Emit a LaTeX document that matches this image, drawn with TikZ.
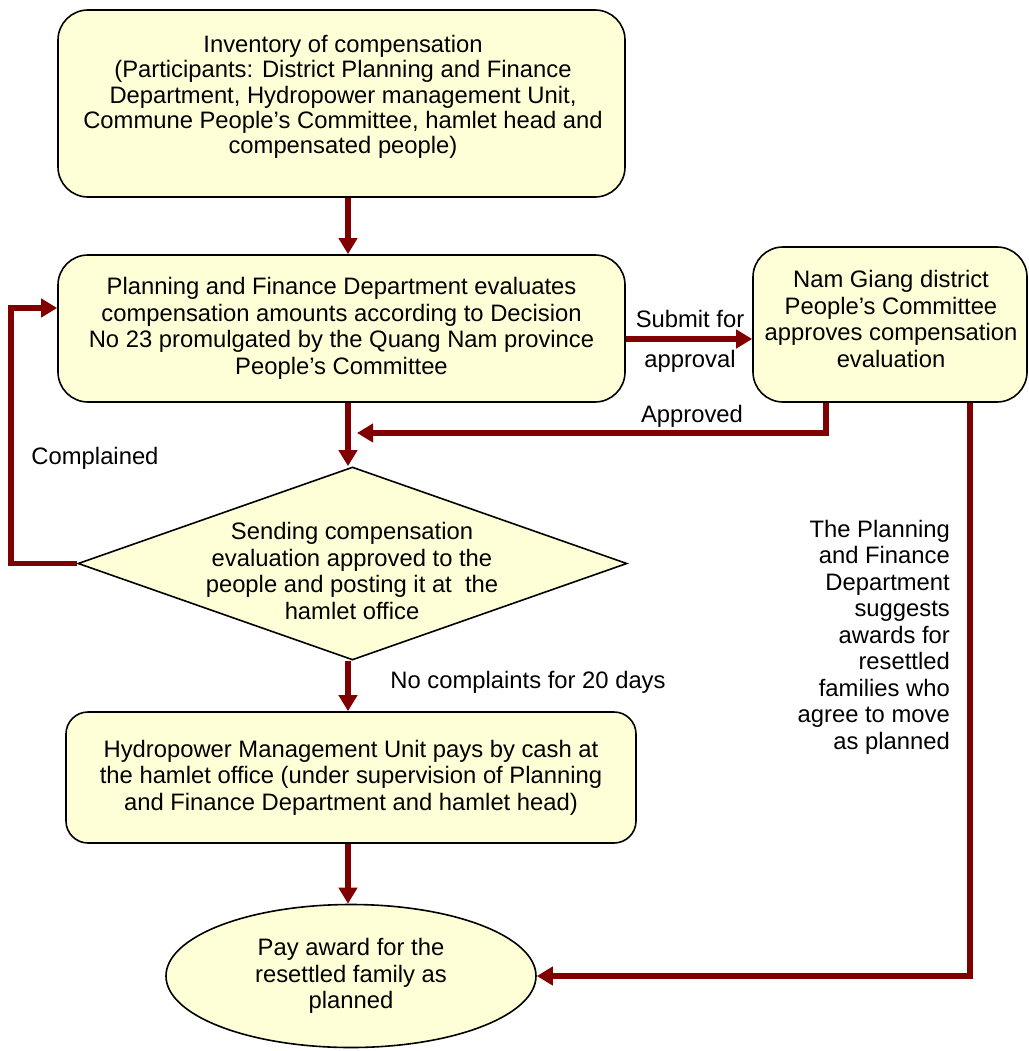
\documentclass[tikz,border=0pt]{standalone}
\usepackage{fontspec}
\setmainfont{Liberation Sans}
\usetikzlibrary{shapes.geometric,arrows.meta}
\definecolor{boxfill}{RGB}{255,255,215}
\definecolor{flowred}{RGB}{128,0,0}
\tikzset{
  txt/.style={font=\fontsize{23.8}{26.5}\selectfont, align=center, inner sep=0pt},
  box/.style={txt, draw, line width=1.6pt, fill=boxfill, rounded corners=30pt},
  flow/.style={draw=flowred, line width=5.5pt, -{Triangle[length=16pt,width=18pt]}}
}
\begin{document}
\begin{tikzpicture}[x=1pt,y=-1pt]
  \useasboundingbox (0,0) rectangle (1028,1051);
  % boxes
  \node[box, minimum width=567pt, minimum height=187pt] (inv) at (341.5,103.5) {};
  \node[txt, font=\fontsize{23.8}{25.3}\selectfont] (invtxt) at (343,97)
    {Inventory of compensation\\(Participants: District Planning and Finance\\Department, Hydropower management Unit,\\Commune People’s Committee, hamlet head and\\compensated people)};
  \node[box, minimum width=567pt, minimum height=147pt] (eval) at (341.5,328.5)
    {Planning and Finance Department evaluates\\compensation amounts according to Decision\\No 23 promulgated by the Quang Nam province\\People’s Committee};
  \node[box, minimum width=274pt, minimum height=155pt] (appr) at (890,324.5) {};
  \node[txt] (apprtxt) at (891,319)
    {Nam Giang district\\People’s Committee\\approves compensation\\evaluation};
  \node[draw, line width=1.6pt, fill=boxfill, diamond, minimum width=549pt,
        minimum height=193pt, inner sep=0pt] (send) at (352.5,563.5) {};
  \node[txt] (sendtxt) at (352,571)
    {Sending compensation\\evaluation approved to the\\people and posting it at~ the\\hamlet office};
  \node[box, minimum width=570pt, minimum height=131pt, rounded corners=22pt] (pay) at (351,777.5)
    {Hydropower Management Unit pays by cash at\\the hamlet office (under supervision of Planning\\and Finance Department and hamlet head)};
  \node[txt, draw, line width=1.6pt, fill=boxfill, ellipse, minimum width=370pt,
        minimum height=143pt] (award) at (351,976)
    {Pay award for the\\resettled family as\\planned};
  % connectors
  \draw[flow] (inv.south -| 348,0) -- (eval.north -| 348,0);
  \draw[flow] (eval.east |- 0,339) -- (appr.west |- 0,339);
  \node[txt] (submit) at (690,319) {Submit for};
  \node[txt] (approval) at (690,361) {approval};
  \coordinate (join) at (357,433);
  \draw[flow] (appr.south -| 826,0) |- (join);
  \node[txt] (approved) at (692,416) {Approved};
  \draw[flow] (eval.south -| 348,0) -- (send.north -| 348,0);
  \draw[flow] (send.west) -- ++(-66,0) |- ([yshift=20.5pt]eval.west);
  \node[txt] (complained) at (95,458) {Complained};
  \draw[flow] (send.south -| 348,0) -- (pay.north -| 348,0);
  \node[txt] (nocompl) at (528,682) {No complaints for 20 days};
  \draw[flow] (pay.south -| 348,0) -- (award.north -| 348,0);
  \draw[flow] (appr.south -| 970,0) |- (award.east);
  \node[txt, align=right, anchor=east] (suggest) at (950,637)
    {The Planning\\and Finance\\Department\\suggests\\awards for\\resettled\\families who\\agree to move\\as planned};
\end{tikzpicture}
\end{document}
